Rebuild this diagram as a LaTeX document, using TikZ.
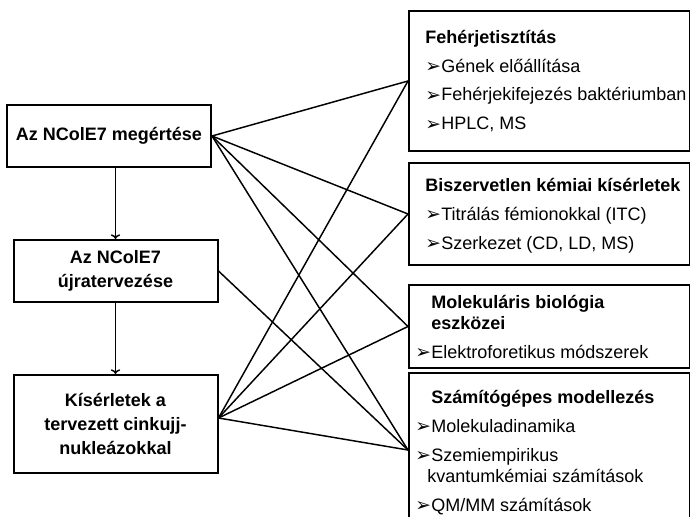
\documentclass[tikz,border=0pt]{standalone}
\usepackage{fontspec}
\setmainfont{Liberation Sans}
\newfontfamily\symfont{DejaVu Sans}
\usetikzlibrary{arrows.meta,calc}

\newcommand{\itm}{\makebox[12pt][l]{\symfont\fontsize{14}{14}\selectfont\raisebox{-0.5pt}{➢}}}

\tikzset{
  box/.style={draw, line width=1.5pt, inner sep=0pt},
  leftbox/.style={box, align=center, font=\bfseries\fontsize{13.5}{18}\selectfont,
    minimum width=153pt, minimum height=46.5pt},
  rightbox/.style={box, anchor=north west, minimum width=210.75pt},
  boxtext/.style={anchor=base west, align=left, inner sep=0pt,
    font=\fontsize{13.5}{15.75}\selectfont},
  link/.style={line width=1.1pt}
}

\begin{document}
\begin{tikzpicture}[x=0.75pt, y=-0.75pt, >={To[length=3.5pt,width=7pt]}]
      \useasboundingbox (0,0) rectangle (690,517);
      % left column
      \node[leftbox] (A) at (109,136) {Az NColE7 megértése};
      \node[leftbox] (B) at (115.5,271) {Az NColE7\\újratervezése};
      \node[leftbox, minimum height=73.5pt] (C) at (115.5,424) {Kísérletek a\\tervezett cinkujj-\\nukleázokkal};
      \draw[->, line width=1.1pt] (A.south -| B.north) -- (B.north);
      \draw[->, line width=1.1pt] (B.south) -- (C.north);
      % right column
      \node[rightbox, minimum height=105pt] (R1) at (408,10) {};
      \node[rightbox, minimum height=76.5pt] (R2) at (408,162) {};
      \node[rightbox, minimum height=62.25pt] (R3) at (408,284) {};
      \node[rightbox, minimum height=115.5pt] (R4) at (408,372) {};
      % texts, anchored at the last line
      \node[boxtext] (T1) at (425,130) {\textbf{Fehérjetisztítás}\\[6pt]
        \itm Gének előállítása\\[6pt]
        \itm Fehérjekifejezés baktériumban\\[6pt]
        \itm HPLC, MS};
      \node[boxtext] (T2) at (425,249) {\textbf{Biszervetlen kémiai kísérletek}\\[6pt]
        \itm Titrálás fémionokkal (ITC)\\[6pt]
        \itm Szerkezet (CD, LD, MS)};
      \node[boxtext] (T3) at (415,358) {\hspace*{12pt}\textbf{Molekuláris biológia}\\
        \hspace*{12pt}\textbf{eszközei}\\[6pt]
        \itm Elektroforetikus módszerek};
      \node[boxtext] (T4) at (415,511) {\hspace*{12pt}\textbf{Számítógépes modellezés}\\[6pt]
        \itm Molekuladinamika\\[6pt]
        \itm Szemiempirikus\\
        \hspace*{9pt}kvantumkémiai számítások\\[6pt]
        \itm QM/MM számítások};
      % links
      \coordinate (Cp) at ($(C.east)+(0,-6)$);
      \foreach \r in {R1,R2,R3,R4} {
        \draw[link] (A.east) -- (\r.west);
        \draw[link] (Cp) -- (\r.west);
      }
      \draw[link] (B.east) -- (R4.west);
    \end{tikzpicture}
\end{document}
